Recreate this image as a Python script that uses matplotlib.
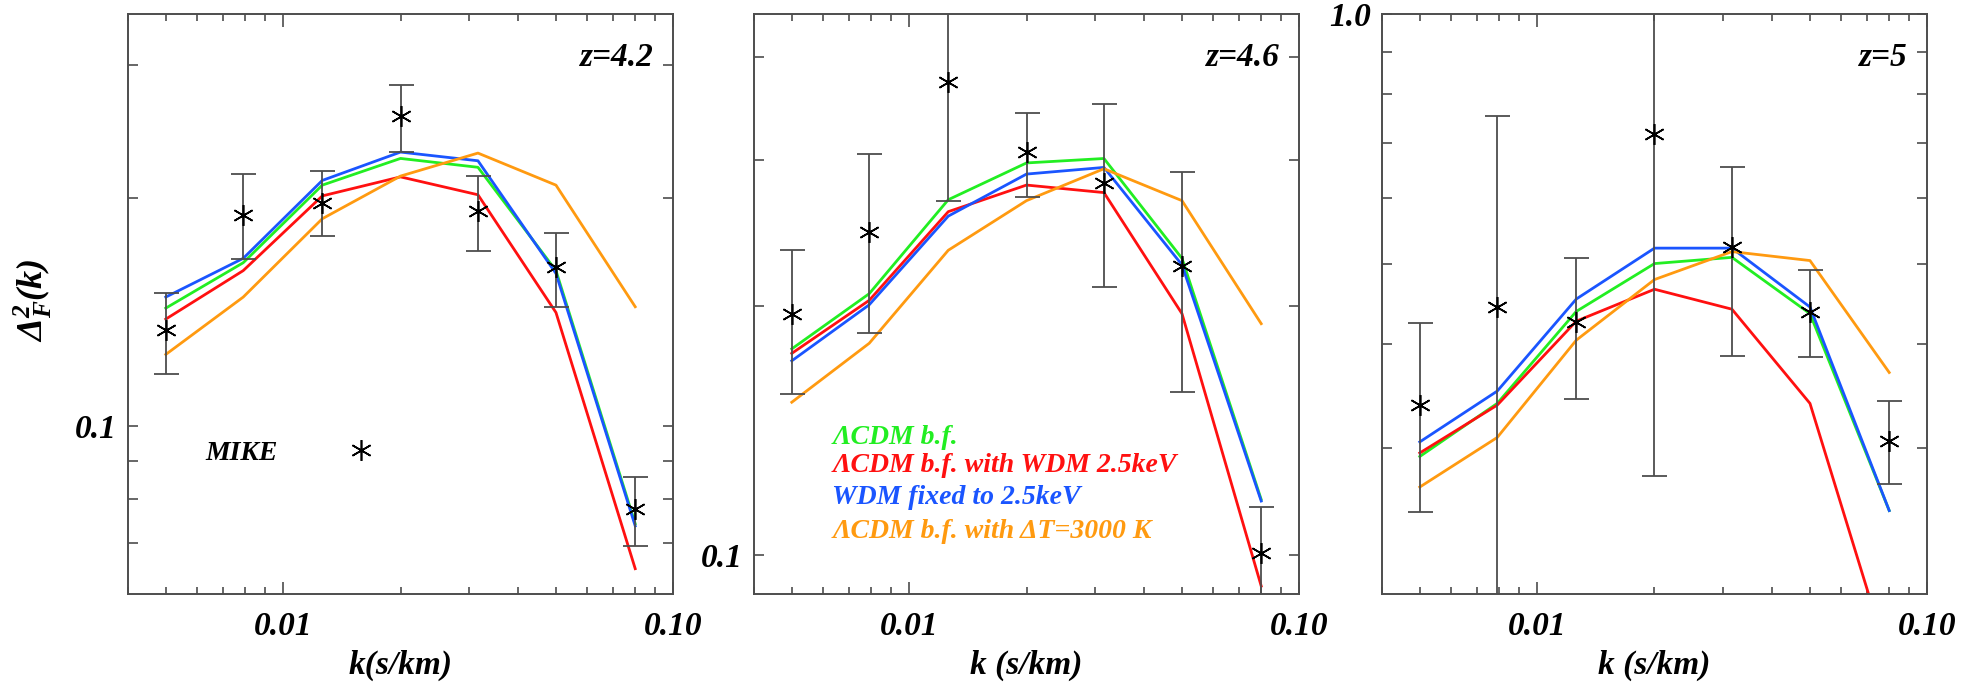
import numpy as np
import matplotlib
matplotlib.use("Agg")
import matplotlib.pyplot as plt
from matplotlib.ticker import NullFormatter

plt.rcParams['font.family'] = ['Liberation Serif', 'DejaVu Serif']
plt.rcParams['font.weight'] = 'bold'
plt.rcParams['font.style'] = 'italic'
plt.rcParams['axes.labelweight'] = 'bold'
plt.rcParams['mathtext.fontset'] = 'custom'
plt.rcParams['mathtext.rm'] = 'Liberation Serif:italic:bold'
plt.rcParams['mathtext.it'] = 'Liberation Serif:italic:bold'
plt.rcParams['mathtext.bf'] = 'Liberation Serif:italic:bold'

# k bins (s/km)
k = [0.005, 0.0079, 0.0126, 0.02, 0.0316, 0.0501, 0.08]

# MIKE data: value, lower and upper end of the error bar
obs_42 = [0.134, 0.190, 0.197, 0.257, 0.192, 0.162, 0.0776]
lo_42 = [0.117, 0.166, 0.178, 0.230, 0.170, 0.1436, 0.0695]
hi_42 = [0.150, 0.215, 0.217, 0.282, 0.214, 0.180, 0.0857]

obs_46 = [0.1958, 0.246, 0.373, 0.307, 0.282, 0.2235, 0.1006]
lo_46 = [0.1565, 0.1857, 0.2682, 0.2706, 0.2109, 0.1575, 0.087]
hi_46 = [0.2336, 0.3053, 0.478, 0.3423, 0.351, 0.2906, 0.1143]

obs_50 = [0.338, 0.4435, 0.425, 0.716, 0.5235, 0.438, 0.306]
lo_50 = [0.2512, 0.133, 0.344, 0.2774, 0.3876, 0.3861, 0.2714]
hi_50 = [0.4238, 0.7541, 0.5077, 1.15, 0.6546, 0.4912, 0.3416]

# models
lcdm_42 = [0.1431, 0.1643, 0.208, 0.2256, 0.2196, 0.1604, 0.0743]
wdm_42 = [0.1384, 0.1604, 0.2013, 0.2133, 0.202, 0.1412, 0.0648]
fixed_42 = [0.148, 0.1665, 0.211, 0.230, 0.224, 0.159, 0.0738]
hot_42 = [0.1243, 0.148, 0.1878, 0.2138, 0.2293, 0.208, 0.1437]

lcdm_46 = [0.1775, 0.207, 0.2689, 0.2979, 0.3016, 0.2284, 0.1167]
wdm_46 = [0.1753, 0.2032, 0.2601, 0.2801, 0.2743, 0.1958, 0.0917]
fixed_46 = [0.1717, 0.2007, 0.2569, 0.2888, 0.2942, 0.2243, 0.1162]
hot_46 = [0.153, 0.1803, 0.2336, 0.2682, 0.2931, 0.2682, 0.1904]

lcdm_50 = [0.2929, 0.3394, 0.4381, 0.5003, 0.509, 0.4354, 0.2521]
wdm_50 = [0.2958, 0.3378, 0.4264, 0.4659, 0.4408, 0.3394, 0.166]
fixed_50 = [0.305, 0.3512, 0.4534, 0.5222, 0.5222, 0.4435, 0.2521]
hot_50 = [0.2691, 0.3088, 0.4045, 0.4786, 0.5172, 0.5045, 0.3698]

model_labels = ["\u039bCDM b.f.", "\u039bCDM b.f. with WDM 2.5keV",
                "WDM fixed to 2.5keV", "\u039bCDM b.f. with \u0394T=3000 K"]
model_colors = ["#22ee22", "#ff1010", "#1a55ff", "#ff9a10"]

panels = [
    ("z=4.2", obs_42, lo_42, hi_42, [lcdm_42, wdm_42, fixed_42, hot_42],
     (0.06, 0.35), [0.1], ["0.1"], [0.07, 0.08, 0.09, 0.2, 0.3], "k(s/km)"),
    ("z=4.6", obs_46, lo_46, hi_46, [lcdm_46, wdm_46, fixed_46, hot_46],
     (0.0897, 0.451), [0.1], ["0.1"], [0.2, 0.3, 0.4], "k (s/km)"),
    ("z=5", obs_50, lo_50, hi_50, [lcdm_50, wdm_50, fixed_50, hot_50],
     (0.2, 1.0), [1.0], ["1.0"], [0.3, 0.4, 0.5, 0.6, 0.7, 0.8, 0.9], "k (s/km)"),
]

W, H = 1984, 697
fig = plt.figure(figsize=(W / 100, H / 100), dpi=100)
lefts = [128, 754, 1382]

for i, (zlab, obs, lo, hi, models, ylim, yt, ytl, ymin, xlab) in enumerate(panels):
    ax = fig.add_axes([lefts[i] / W, 103 / H, 545 / W, 580 / H])
    ax.set_xscale('log')
    ax.set_yscale('log')

    # draw order: green, red, blue, orange
    for m, c in zip(models, model_colors):
        ax.plot(k, m, color=c, lw=2.0, zorder=2)

    obs = np.array(obs)
    yerr = [obs - np.array(lo), np.array(hi) - obs]
    ax.errorbar(k, obs, yerr=yerr, fmt='none', ecolor='0.3', elinewidth=1.3,
                capsize=9, capthick=1.3, zorder=3)
    pts, = ax.plot(k, obs, ls='none', marker=(6, 2, 0), ms=15, mec='k',
                   mew=1.2, zorder=4)

    ax.set_xlim(0.004, 0.1)
    ax.set_ylim(*ylim)
    ax.set_xticks([0.01, 0.1])
    ax.set_xticklabels(["0.01", "0.10"])
    ax.set_xticks([0.004, 0.005, 0.006, 0.007, 0.008, 0.009,
                   0.02, 0.03, 0.04, 0.05, 0.06, 0.07, 0.08, 0.09], minor=True)
    ax.xaxis.set_minor_formatter(NullFormatter())
    ax.set_yticks(yt)
    ax.set_yticklabels(ytl)
    ax.set_yticks(ymin, minor=True)
    ax.yaxis.set_minor_formatter(NullFormatter())

    ax.tick_params(axis='both', which='both', direction='in', top=True,
                   right=True, labelsize=24, color='0.3', width=1.2)
    ax.tick_params(axis='x', which='major', length=9, pad=12)
    ax.tick_params(axis='x', which='minor', length=5)
    ax.tick_params(axis='y', which='both', length=7, pad=8)
    for s in ax.spines.values():
        s.set_color('0.3')
        s.set_linewidth(1.4)

    ax.set_xlabel(xlab, fontsize=24, fontweight='bold', labelpad=6)
    ax.text(0.965, 0.925, zlab, transform=ax.transAxes, ha='right',
            va='center', fontsize=24)

    if i == 0:
        ax.legend([pts], ["MIKE"], markerfirst=False, frameon=False,
                  loc='center left', bbox_to_anchor=(0.142, 0.243),
                  handlelength=2, handletextpad=2.0, borderpad=0,
                  borderaxespad=0, prop={'size': 20, 'weight': 'bold',
                                         'style': 'italic'})
    if i == 1:
        ys = [0.269, 0.222, 0.167, 0.107]
        for lab, c, y in zip(model_labels, model_colors, ys):
            ax.text(0.144, y, lab, color=c, transform=ax.transAxes,
                    ha='left', va='center', fontsize=20)

fig.text(33 / W, 1 - 300 / H, r"$\Delta^2_F(k)$", rotation=90,
         ha='center', va='center', fontsize=26)

fig.savefig("out.png", dpi=100)
